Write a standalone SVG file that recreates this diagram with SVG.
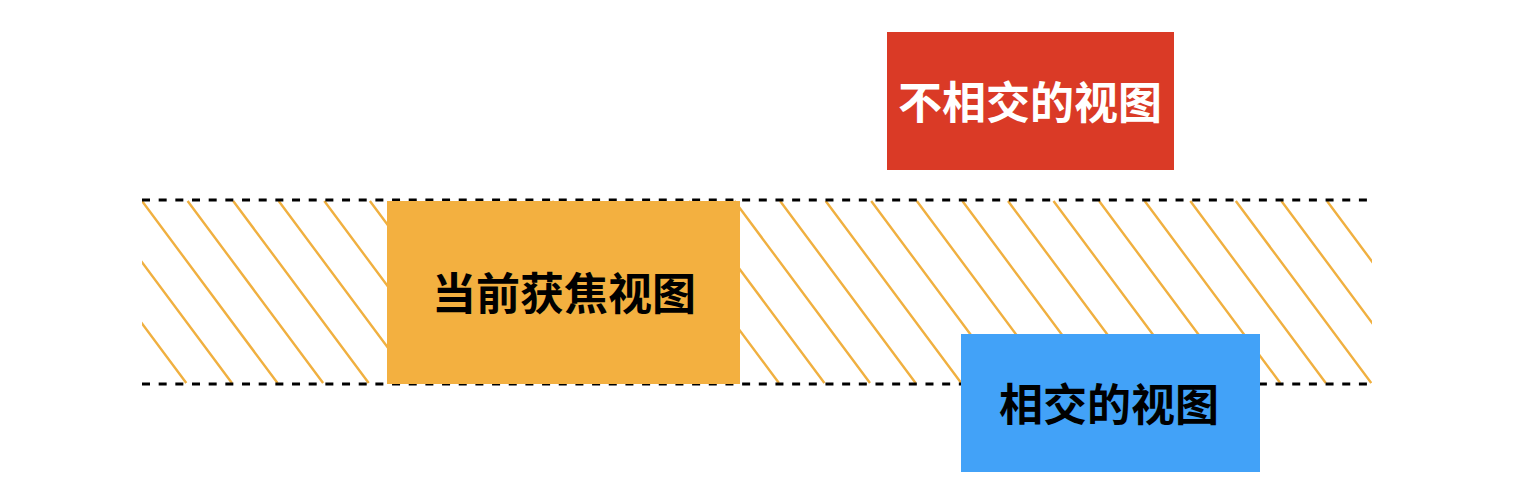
<svg xmlns="http://www.w3.org/2000/svg" width="1516" height="504" viewBox="0 0 1516 504">
<style>
.hatch{stroke:#F0B040;stroke-width:2.4;fill:none}
.dash{stroke:#000;stroke-width:3;stroke-dasharray:8 8.67;fill:none}
.lbl{font-family:"Noto Sans CJK SC","Noto Sans",sans-serif;font-weight:700;font-size:44px;text-anchor:middle}
</style>
<defs>
<clipPath id="band"><rect x="142" y="200" width="1230" height="184"/></clipPath>
</defs>
<rect width="1516" height="504" fill="#fff"/>
<g id="hatching" clip-path="url(#band)">
<path class="hatch" d="M5.3 201l135.5 182 M50.8 201l135.5 182 M96.4 201l135.5 182 M142 201l135.5 182 M187.6 201l135.5 182 M233.2 201l135.5 182 M278.7 201l135.5 182 M324.3 201l135.5 182 M369.9 201l135.5 182 M415.5 201l135.5 182 M461.1 201l135.5 182 M506.6 201l135.5 182 M552.2 201l135.5 182 M597.8 201l135.5 182 M643.4 201l135.5 182 M688.9 201l135.5 182 M734.5 201l135.5 182 M780.1 201l135.5 182 M825.7 201l135.5 182 M871.2 201l135.5 182 M916.8 201l135.5 182 M962.4 201l135.5 182 M1008 201l135.5 182 M1053.5 201l135.5 182 M1099.1 201l135.5 182 M1144.7 201l135.5 182 M1190.3 201l135.5 182 M1235.8 201l135.5 182 M1281.4 201l135.5 182 M1327 201l135.5 182"/>
</g>
<g id="connectors">
<line class="dash" x1="142" y1="200" x2="1372" y2="200"/>
<line class="dash" x1="142" y1="384" x2="1372" y2="384"/>
</g>
<g id="node-focused">
<rect x="387" y="201" width="353" height="183" fill="#F3B040"/>
<text class="lbl" x="564" y="310" fill="#000">当前获焦视图</text>
</g>
<g id="node-disjoint">
<rect x="887" y="32" width="287" height="138" fill="#DA3A26"/>
<text class="lbl" x="1030" y="119" fill="#fff">不相交的视图</text>
</g>
<g id="node-intersecting">
<rect x="961" y="334" width="299" height="138" fill="#42A2F8"/>
<text class="lbl" x="1109" y="421" fill="#000">相交的视图</text>
</g>
</svg>
